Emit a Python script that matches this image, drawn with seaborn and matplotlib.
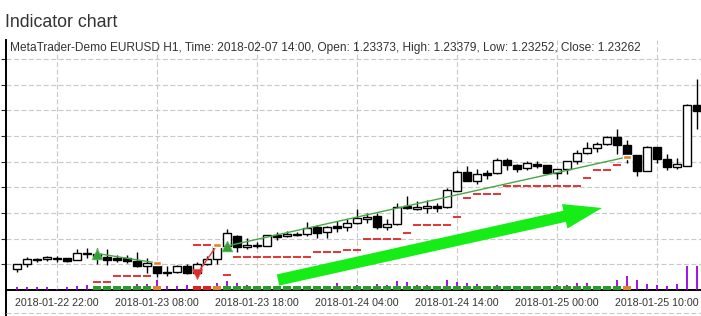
import numpy as np
import pandas as pd
import matplotlib
matplotlib.use("Agg")
import matplotlib.pyplot as plt
from matplotlib.patches import FancyArrowPatch, ArrowStyle
from matplotlib.lines import Line2D
import seaborn as sns

# ---------------- data ----------------
start_time = "2018-01-22 18:00"
title_main = "Indicator chart"
title_sub = ("MetaTrader-Demo EURUSD H1, Time: 2018-02-07 14:00, Open: 1.23373, "
             "High: 1.23379, Low: 1.23252, Close: 1.23262")

opens = [1.22207, 1.22257, 1.22305, 1.22307, 1.22315, 1.22317, 1.22297, 1.22373, 1.22360, 1.22333,
         1.22323, 1.22317, 1.22293, 1.22240, 1.22267, 1.22175, 1.22177, 1.22240, 1.22167, 1.22257,
         1.22307, 1.22440, 1.22540, 1.22427, 1.22440, 1.22443, 1.22553, 1.22537, 1.22550, 1.22557,
         1.22630, 1.22577, 1.22640, 1.22633, 1.22667, 1.22713, 1.22740, 1.22633, 1.22657, 1.22840,
         1.22810, 1.22817, 1.22840, 1.22827, 1.22993, 1.23177, 1.23093, 1.23170, 1.23167, 1.23300,
         1.23247, 1.23217, 1.23260, 1.23247, 1.23167, 1.23207, 1.23290, 1.23367, 1.23417, 1.23460,
         1.23527, 1.23450, 1.23350, 1.23193, 1.23427, 1.23310, 1.23233, 1.23243, 1.23850]
highs = [1.22260, 1.22327, 1.22323, 1.22343, 1.22343, 1.22320, 1.22410, 1.22420, 1.22420, 1.22410,
         1.22350, 1.22350, 1.22380, 1.22320, 1.22290, 1.22240, 1.22250, 1.22260, 1.22280, 1.22340,
         1.22460, 1.22610, 1.22550, 1.22517, 1.22480, 1.22550, 1.22580, 1.22590, 1.22580, 1.22677,
         1.22650, 1.22640, 1.22693, 1.22707, 1.22813, 1.22767, 1.22767, 1.22710, 1.22867, 1.22943,
         1.22890, 1.22900, 1.22873, 1.23017, 1.23200, 1.23235, 1.23210, 1.23200, 1.23317, 1.23320,
         1.23260, 1.23290, 1.23290, 1.23250, 1.23210, 1.23295, 1.23400, 1.23480, 1.23483, 1.23540,
         1.23610, 1.23500, 1.23350, 1.23440, 1.23430, 1.23357, 1.23317, 1.23860, 1.24110]
lows = [1.22183, 1.22230, 1.22283, 1.22290, 1.22283, 1.22285, 1.22297, 1.22320, 1.22260, 1.22250,
        1.22280, 1.22270, 1.22230, 1.22173, 1.22133, 1.22140, 1.22170, 1.22160, 1.22160, 1.22250,
        1.22257, 1.22430, 1.22383, 1.22407, 1.22420, 1.22440, 1.22500, 1.22530, 1.22540, 1.22540,
        1.22517, 1.22523, 1.22583, 1.22590, 1.22660, 1.22667, 1.22613, 1.22600, 1.22650, 1.22810,
        1.22800, 1.22767, 1.22777, 1.22820, 1.22990, 1.23090, 1.23060, 1.23107, 1.23160, 1.23200,
        1.23183, 1.23200, 1.23223, 1.23157, 1.23113, 1.23157, 1.23257, 1.23360, 1.23383, 1.23455,
        1.23360, 1.23273, 1.23143, 1.23190, 1.23273, 1.23200, 1.23207, 1.23235, 1.23610]
closes = [1.22260, 1.22307, 1.22308, 1.22327, 1.22318, 1.22293, 1.22367, 1.22357, 1.22327, 1.22303,
          1.22300, 1.22290, 1.22240, 1.22267, 1.22173, 1.22180, 1.22240, 1.22167, 1.22260, 1.22307,
          1.22440, 1.22570, 1.22433, 1.22450, 1.22445, 1.22550, 1.22533, 1.22560, 1.22555, 1.22623,
          1.22573, 1.22630, 1.22623, 1.22667, 1.22720, 1.22733, 1.22633, 1.22657, 1.22833, 1.22817,
          1.22833, 1.22840, 1.22823, 1.23000, 1.23177, 1.23095, 1.23157, 1.23153, 1.23300, 1.23247,
          1.23213, 1.23267, 1.23240, 1.23167, 1.23207, 1.23290, 1.23367, 1.23417, 1.23457, 1.23527,
          1.23447, 1.23343, 1.23193, 1.23427, 1.23307, 1.23233, 1.23257, 1.23850, 1.23793]

nan = np.nan
stop_levels = [nan, nan, nan, nan, nan, nan, nan, nan, 1.22080, 1.22080,
               1.22140, 1.22140, 1.22140, 1.22140, nan, nan, nan, nan, 1.22450, 1.22450,
               nan, 1.22150, 1.22330, 1.22330, 1.22330, 1.22330, 1.22330, 1.22330, 1.22330, 1.22330,
               1.22380, 1.22380, 1.22380, 1.22400, 1.22400, 1.22513, 1.22513, 1.22513, 1.22513, 1.22567,
               1.22650, 1.22650, 1.22650, 1.22650, 1.22727, 1.22917, 1.22957, 1.22957, 1.22957, 1.23037,
               1.23037, 1.23037, 1.23037, 1.23037, 1.23037, 1.23037, 1.23037, 1.23117, 1.23200, 1.23200,
               1.23247, 1.23317, nan, nan, nan, nan, nan, nan, nan]

tick_volumes = [135, 135, 135, 135, 50, 135, 200, 250, 100, 100,
                100, 100, 300, 300, 500, 200, 200, 250, 100, 100,
                335, 465, 335, 250, 100, 100, 100, 100, 100, 100,
                200, 200, 365, 200, 250, 100, 300, 250, 465, 385,
                250, 250, 200, 500, 415, 365, 300, 100, 250, 100,
                100, 100, 100, 100, 250, 250, 365, 365, 200, 200,
                500, 700, 500, 300, 250, 200, 300, 1200, 1200]

# position state per bar: . none, L long, S short, X exit
position_codes = ("........" "LLLLLL" "X" "..." "SS" "X"
                  "LLLLLLLLLL" "LLLLLLLLLL" "LLLLLLLLLL" "LLLLLLLLLL" "X" ".......")

trade_entry_idx = [8, 18, 21]
trade_entry_price = [1.22365, 1.22160, 1.22440]
trade_exit_idx = [14, 20, 61]
trade_exit_price = [1.22270, 1.22448, 1.23330]
trade_side = ["buy", "sell", "buy"]

arrow_start = (26.1, 1.22100)
arrow_end = (58.5, 1.22820)

label_every = 10
label_first = 4

# ---------------- styling ----------------
sns.set_style("white")
plt.rcParams["font.family"] = ["Liberation Sans", "DejaVu Sans"]

W, H, DPI = 701, 316, 100
fig = plt.figure(figsize=(W / DPI, H / DPI), dpi=DPI)
fig.patch.set_facecolor("white")

ax_left, ax_right, ax_top, ax_bot = 6, 715, 40, 290
ax = fig.add_axes([ax_left / W, (H - ax_bot) / H, (ax_right - ax_left) / W, (ax_bot - ax_top) / H])

df = pd.DataFrame(dict(open=opens, high=highs, low=lows, close=closes,
                       stop=stop_levels, volume=tick_volumes,
                       pos=list(position_codes)))
df["idx"] = np.arange(len(df))
df["time"] = pd.date_range(start_time, periods=len(df), freq="h")

ymin, ymax = 1.2200, 1.2450
grid_step = 0.002567
xmin = -1.1
xmax = xmin + (ax_right - ax_left) / 10.0
ax.set_xlim(xmin, xmax)
ax.set_ylim(ymin, ymax)

grid_kw = dict(color="#c8c8c8", lw=0.8, ls=(0, (4.5, 2.2)))
ax.set_yticks(ymin + grid_step * np.arange(1, 10))
tick_idx = df["idx"].values[label_first::label_every]
ax.set_xticks(tick_idx)
ax.set_xticklabels(df["time"].dt.strftime("%Y-%m-%d %H:%M").values[label_first::label_every],
                   fontsize=7.7, color="#333333")
ax.grid(True, **grid_kw)
ax.set_axisbelow(True)
ax.tick_params(axis="y", left=False, labelleft=False, right=False)
ax.tick_params(axis="x", length=0, pad=5.5)
for s in ["top", "right"]:
    ax.spines[s].set_visible(False)
ax.spines["left"].set_color("black")
ax.spines["left"].set_linewidth(1.4)
ax.spines["bottom"].set_color("black")
ax.spines["bottom"].set_linewidth(1.4)

# ---- candles ----
up = df["close"] >= df["open"]
ax.vlines(df["idx"], df["low"], df["high"], color="black", lw=1.0, zorder=3)
body_bottom = np.minimum(df["open"], df["close"])
body_height = np.maximum((df["close"] - df["open"]).abs(), 0.00002)
ax.bar(df["idx"], body_height, bottom=body_bottom, width=0.72,
       color=np.where(up, "white", "black"), edgecolor="black", linewidth=1.0, zorder=4)

# ---- trailing stop dashes ----
st = df.dropna(subset=["stop"])
ax.hlines(st["stop"], st["idx"] - 0.36, st["idx"] + 0.36, color="#e02424", lw=1.3, zorder=3)

# ---- trades ----
for ei, ep, xi, xp, side in zip(trade_entry_idx, trade_entry_price, trade_exit_idx,
                                trade_exit_price, trade_side):
    ax.plot([ei, xi], [ep, xp], color="#45a845" if side == "buy" else "#e83a3a",
            lw=1.0, zorder=5)
trades = pd.DataFrame(dict(idx=trade_entry_idx, price=trade_entry_price, side=trade_side))
sns.scatterplot(data=trades[trades.side == "buy"], x="idx", y="price", marker="^", s=60,
                color="#35a035", edgecolor="#5fc05f", linewidth=0.5, ax=ax, zorder=6, legend=False)
sns.scatterplot(data=trades[trades.side == "sell"], x="idx", y="price", marker="v", s=55,
                color="#e02828", edgecolor="#f06060", linewidth=0.5, ax=ax, zorder=6, legend=False)
ax.bar(trade_exit_idx, 0.00034, bottom=np.array(trade_exit_price) - 0.00017, width=0.75,
       color="#e4822a", zorder=6)

# ---- big arrow ----
arrow = FancyArrowPatch(arrow_start, arrow_end,
                        arrowstyle=ArrowStyle.Simple(head_length=27.5, head_width=18, tail_width=8.2),
                        mutation_scale=1, color="#16ec16", lw=0, shrinkA=0, shrinkB=0, zorder=7)
ax.add_patch(arrow)
ax.set_xlabel("")
ax.set_ylabel("")

# ---- volume + position strip (overlay) ----
ax2 = ax.twinx()
ax2.set_zorder(ax.get_zorder() + 1)
ax2.patch.set_visible(False)
px_units = 50.0
ax2.set_ylim(0, (ax_bot - ax_top) * px_units)
ax2.vlines(df["idx"], 0, df["volume"], color="#9a00e6", lw=1.3, zorder=2)
colors_map = {"L": "#2a9a2a", "S": "#dd2222", "X": "#e4822a"}
strip = df[df["pos"] != "."]
ax2.bar(strip["idx"], 4.0 * px_units, bottom=0.4 * px_units, width=0.82,
        color=[colors_map[c] for c in strip["pos"]], linewidth=0, zorder=3)
ax2.set_yticks([])
for s in ax2.spines.values():
    s.set_visible(False)
ax2.grid(False)
ax2.set_xlim(xmin, xmax)
ax2.set_ylabel("")

# ---- frame pieces below the chart ----
fig.add_artist(Line2D([ax_left / W, ax_left / W], [0, (H - ax_bot) / H],
                      transform=fig.transFigure, color="black", lw=1.4))
fig.add_artist(Line2D([ax_left / W, 1], [3 / H, 3 / H], transform=fig.transFigure,
                      **grid_kw))

# ---- titles ----
fig.text(5 / W, 1 - 26.7 / H, title_main, fontsize=12.8, color="#333333", va="baseline")
fig.text(10 / W, 1 - 50.7 / H, title_sub, fontsize=8.58, color="#333333", va="baseline")

fig.savefig("out.png", dpi=DPI)
